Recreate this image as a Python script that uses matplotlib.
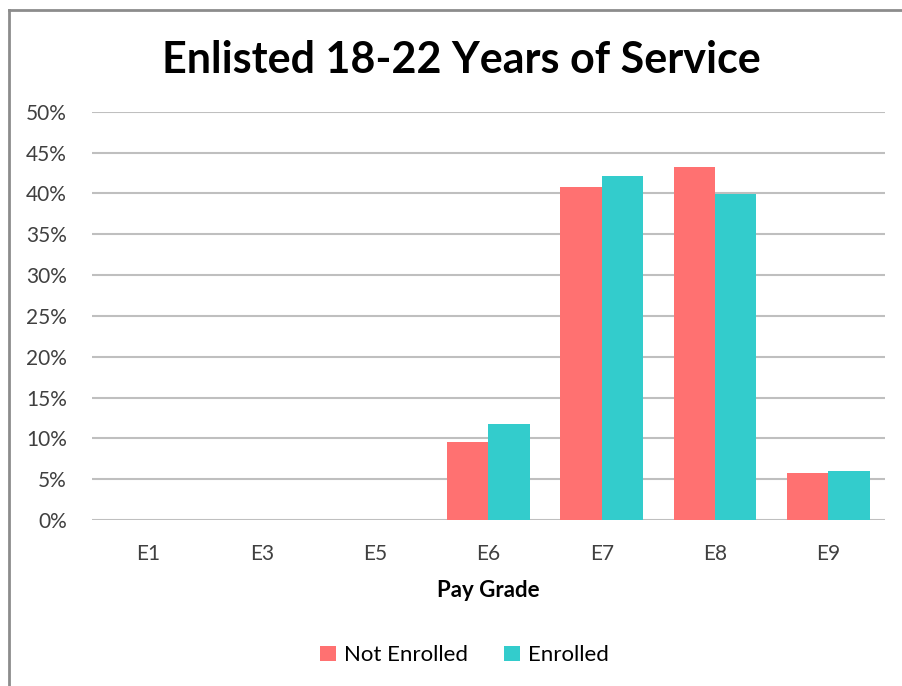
import matplotlib.pyplot as plt
import numpy as np
from matplotlib.lines import Line2D

plt.rcParams['font.family'] = ['Lato', 'DejaVu Sans']

grades = ["E1", "E3", "E5", "E6", "E7", "E8", "E9"]
not_enrolled = np.array([0, 0, 0, 9.5, 40.8, 43.3, 5.7])
enrolled = np.array([0, 0, 0, 11.7, 42.1, 39.9, 5.95])

red = "#FF7171"
teal = "#33CCCC"

fig = plt.figure(figsize=(9.02, 6.86), dpi=100)
ax = fig.add_axes([0.102, 0.242, 0.879, 0.595])

x = np.arange(len(grades))
width = 0.365
ax.bar(x - width / 2, not_enrolled, width, color=red, label="Not Enrolled")
ax.bar(x + width / 2, enrolled, width, color=teal, label="Enrolled")

ax.set_xlim(-0.5, len(grades) - 0.5)
ax.set_ylim(0, 50)
ax.set_yticks(np.arange(0, 51, 5))
ax.set_yticklabels([f"{v}%" for v in range(0, 51, 5)])
ax.set_xticks(x)
ax.set_xticklabels(grades)
ax.grid(axis="y", color="#BFBFBF", linewidth=1.5)
ax.set_axisbelow(True)
for s in ax.spines.values():
    s.set_visible(False)
ax.tick_params(axis="both", length=0, labelsize=15, colors="#404040")
ax.tick_params(axis="y", pad=18)
ax.tick_params(axis="x", pad=17)

ax.set_xlabel("Pay Grade", fontsize=16, fontweight="bold", labelpad=12)
fig.text(0.511, 0.912, "Enlisted 18-22 Years of Service", ha="center", va="center",
         fontsize=31, fontweight="bold")

ax.legend(loc="center", bbox_to_anchor=(0.47, -0.331), ncol=2, frameon=False,
          fontsize=16, handlelength=0.7, handleheight=0.7, handletextpad=0.4,
          columnspacing=1.6)

# chart border (top and left visible in the screenshot)
fig.add_artist(Line2D([9 / 902, 9 / 902], [0, 1 - 10 / 686], transform=fig.transFigure,
                      color="#8C8C8C", linewidth=2))
fig.add_artist(Line2D([9 / 902, 1], [1 - 10 / 686, 1 - 10 / 686], transform=fig.transFigure,
                      color="#8C8C8C", linewidth=2))

fig.savefig("out.png", dpi=100)
